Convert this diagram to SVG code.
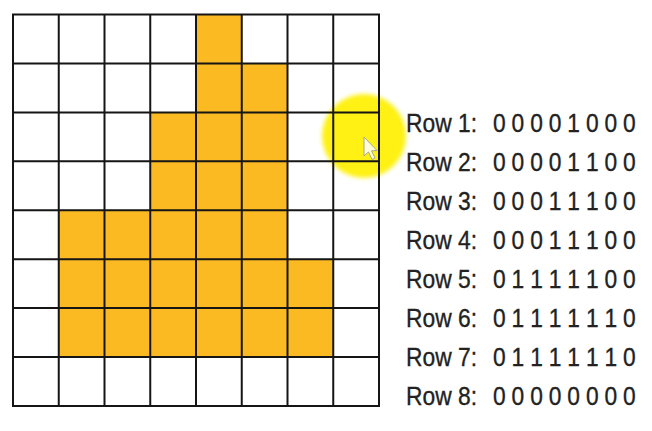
<svg xmlns="http://www.w3.org/2000/svg" width="652" height="431" viewBox="0 0 652 431">
  <style>
    .cell { fill: #FBBA22; }
    .grid { fill: none; stroke: #151515; stroke-width: 2; }
    .lbl { font-family: "Liberation Sans", Arial, sans-serif; font-size: 26.5px; fill: #222; stroke: #222; stroke-width: 0.35; }
  </style>
  <defs>
    <filter id="soft" x="-30%" y="-30%" width="160%" height="160%">
      <feGaussianBlur stdDeviation="2"/>
    </filter>
  </defs>
  <rect width="652" height="431" fill="#ffffff"/>
  <g id="cells">
    <rect class="cell" x="196" y="14.5" width="45.75" height="48.9"/>
    <rect class="cell" x="196" y="63.4" width="91.5" height="49"/>
    <rect class="cell" x="150.25" y="112.4" width="137.25" height="97.9"/>
    <rect class="cell" x="58.75" y="210.3" width="228.75" height="49"/>
    <rect class="cell" x="58.75" y="259.2" width="274.5" height="97.9"/>
  </g>
  <g id="highlight">
    <circle cx="364" cy="136" r="42" fill="#FFF000" opacity="0.92" filter="url(#soft)"/>
  </g>
  <g id="grid">
    <path class="grid" d="M13 14.5V406M58.75 14.5V406M104.5 14.5V406M150.25 14.5V406M196 14.5V406M241.75 14.5V406M287.5 14.5V406M333.25 14.5V406M379 14.5V406M12 14.5H380M12 63.4H380M12 112.4H380M12 161.3H380M12 210.3H380M12 259.2H380M12 308.1H380M12 357.1H380M12 406H380"/>
  </g>
  <g id="cursor">
    <path d="M364 137 L364 156 L368.5 152 L372 159.5 L375 158 L371.5 150.8 L377 150.5 Z" fill="#ffffff" stroke="#999" stroke-width="1" opacity="0.85"/>
  </g>
  <g id="rows">
    <g id="row1"><text class="lbl" x="406" y="131.5" textLength="71" lengthAdjust="spacingAndGlyphs">Row 1:</text><text class="lbl" transform="translate(493,131.5) scale(0.86,1)" x="0 21.6 43.2 64.8 86.4 108 129.6 151.2" y="0">00001000</text></g>
    <g id="row2"><text class="lbl" x="406" y="170.6" textLength="71" lengthAdjust="spacingAndGlyphs">Row 2:</text><text class="lbl" transform="translate(493,170.6) scale(0.86,1)" x="0 21.6 43.2 64.8 86.4 108 129.6 151.2" y="0">00001100</text></g>
    <g id="row3"><text class="lbl" x="406" y="209.7" textLength="71" lengthAdjust="spacingAndGlyphs">Row 3:</text><text class="lbl" transform="translate(493,209.7) scale(0.86,1)" x="0 21.6 43.2 64.8 86.4 108 129.6 151.2" y="0">00011100</text></g>
    <g id="row4"><text class="lbl" x="406" y="248.8" textLength="71" lengthAdjust="spacingAndGlyphs">Row 4:</text><text class="lbl" transform="translate(493,248.8) scale(0.86,1)" x="0 21.6 43.2 64.8 86.4 108 129.6 151.2" y="0">00011100</text></g>
    <g id="row5"><text class="lbl" x="406" y="287.9" textLength="71" lengthAdjust="spacingAndGlyphs">Row 5:</text><text class="lbl" transform="translate(493,287.9) scale(0.86,1)" x="0 21.6 43.2 64.8 86.4 108 129.6 151.2" y="0">01111100</text></g>
    <g id="row6"><text class="lbl" x="406" y="327" textLength="71" lengthAdjust="spacingAndGlyphs">Row 6:</text><text class="lbl" transform="translate(493,327) scale(0.86,1)" x="0 21.6 43.2 64.8 86.4 108 129.6 151.2" y="0">01111110</text></g>
    <g id="row7"><text class="lbl" x="406" y="366.1" textLength="71" lengthAdjust="spacingAndGlyphs">Row 7:</text><text class="lbl" transform="translate(493,366.1) scale(0.86,1)" x="0 21.6 43.2 64.8 86.4 108 129.6 151.2" y="0">01111110</text></g>
    <g id="row8"><text class="lbl" x="406" y="405.2" textLength="71" lengthAdjust="spacingAndGlyphs">Row 8:</text><text class="lbl" transform="translate(493,405.2) scale(0.86,1)" x="0 21.6 43.2 64.8 86.4 108 129.6 151.2" y="0">00000000</text></g>
  </g>
</svg>
